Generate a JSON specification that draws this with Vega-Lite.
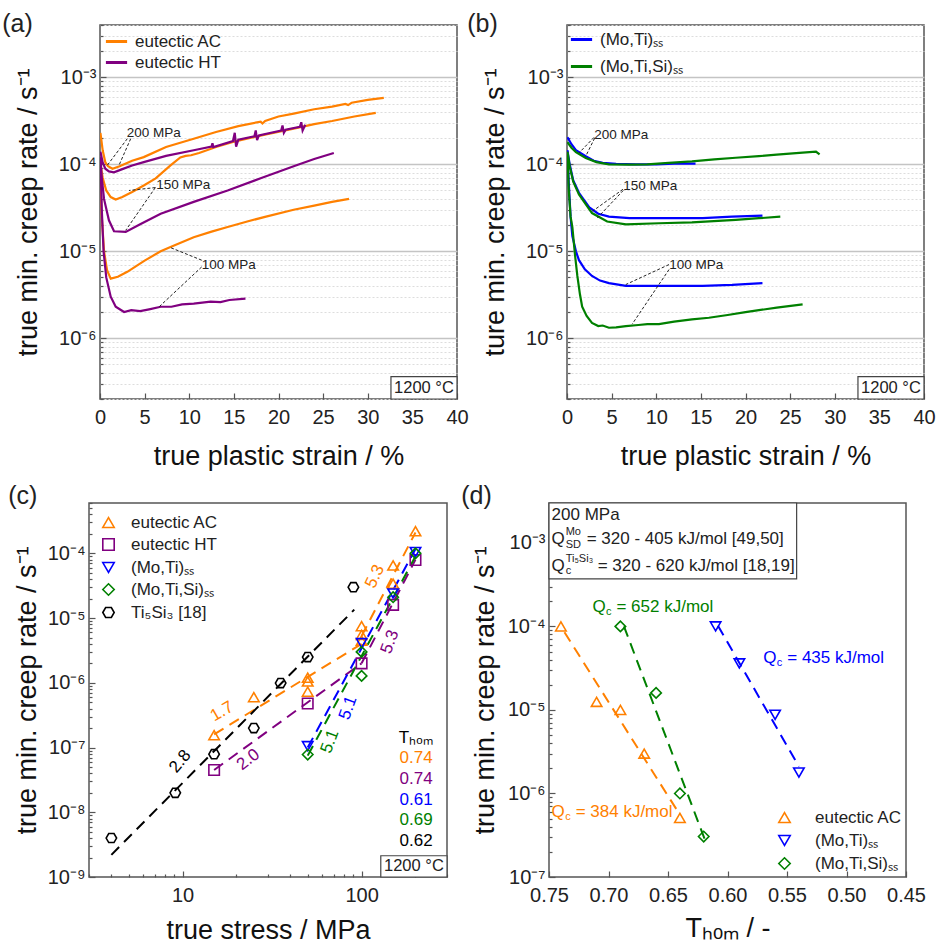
{
"$schema": "https://vega.github.io/schema/vega-lite/v6.json",
"background": "white",
"padding": {"left": 1, "top": 10, "right": 0, "bottom": 0},
"config": {
  "font": "Liberation Sans",
  "view": {"stroke": "#555555", "strokeWidth": 1.5},
  "axis": {"labelFontSize": 20, "titleFontSize": 27, "titleFontWeight": "normal", "labelColor": "#222222", "titleColor": "#111111", "domain": false, "tickColor": "#555555", "tickWidth": 1.2, "labelFont": "Liberation Sans", "titleFont": "Liberation Sans", "grid": false, "labelOverlap": false, "labelFlush": false},
  "legend": {"labelFontSize": 17, "labelFont": "Liberation Sans", "labelColor": "#222222", "padding": 0},
  "title": {"fontSize": 25, "fontWeight": "normal", "font": "Liberation Sans", "anchor": "start", "frame": "bounds", "color": "#222222"},
  "text": {"font": "Liberation Sans"}
},
"datasets": {
  "a": [
    {"g":"eutectic AC","p":200,"x":0.05,"y":2.3e-4},{"g":"eutectic AC","p":200,"x":0.3,"y":1.45e-4},{"g":"eutectic AC","p":200,"x":0.6,"y":1.05e-4},{"g":"eutectic AC","p":200,"x":0.9,"y":9.5e-5},{"g":"eutectic AC","p":200,"x":1.4,"y":8.9e-5},{"g":"eutectic AC","p":200,"x":2.2,"y":9.5e-5},{"g":"eutectic AC","p":200,"x":3.6,"y":1.1e-4},{"g":"eutectic AC","p":200,"x":4.9,"y":1.21e-4},{"g":"eutectic AC","p":200,"x":7.4,"y":1.58e-4},{"g":"eutectic AC","p":200,"x":10.5,"y":1.97e-4},{"g":"eutectic AC","p":200,"x":13,"y":2.35e-4},{"g":"eutectic AC","p":200,"x":15.5,"y":2.75e-4},{"g":"eutectic AC","p":200,"x":18,"y":3.1e-4},{"g":"eutectic AC","p":200,"x":18.2,"y":2.95e-4},{"g":"eutectic AC","p":200,"x":18.5,"y":3.15e-4},{"g":"eutectic AC","p":200,"x":20,"y":3.55e-4},{"g":"eutectic AC","p":200,"x":21.7,"y":3.83e-4},{"g":"eutectic AC","p":200,"x":24,"y":4.3e-4},{"g":"eutectic AC","p":200,"x":26,"y":4.6e-4},{"g":"eutectic AC","p":200,"x":27.5,"y":4.95e-4},{"g":"eutectic AC","p":200,"x":27.8,"y":4.8e-4},{"g":"eutectic AC","p":200,"x":28.2,"y":5.1e-4},{"g":"eutectic AC","p":200,"x":30,"y":5.5e-4},{"g":"eutectic AC","p":200,"x":31.8,"y":5.8e-4},
    {"g":"eutectic AC","p":150,"x":0.05,"y":1.0e-4},{"g":"eutectic AC","p":150,"x":0.3,"y":7e-5},{"g":"eutectic AC","p":150,"x":0.7,"y":5e-5},{"g":"eutectic AC","p":150,"x":1.2,"y":4.2e-5},{"g":"eutectic AC","p":150,"x":1.76,"y":3.93e-5},{"g":"eutectic AC","p":150,"x":2.5,"y":4.2e-5},{"g":"eutectic AC","p":150,"x":3.6,"y":4.8e-5},{"g":"eutectic AC","p":150,"x":4.9,"y":5.7e-5},{"g":"eutectic AC","p":150,"x":6.24,"y":6.9e-5},{"g":"eutectic AC","p":150,"x":7.9,"y":9.7e-5},{"g":"eutectic AC","p":150,"x":9.0,"y":1.2e-4},{"g":"eutectic AC","p":150,"x":9.6,"y":1.25e-4},{"g":"eutectic AC","p":150,"x":10.2,"y":1.27e-4},{"g":"eutectic AC","p":150,"x":11.1,"y":1.35e-4},{"g":"eutectic AC","p":150,"x":13,"y":1.58e-4},{"g":"eutectic AC","p":150,"x":14.8,"y":1.8e-4},{"g":"eutectic AC","p":150,"x":16.7,"y":2.0e-4},{"g":"eutectic AC","p":150,"x":18.6,"y":2.2e-4},{"g":"eutectic AC","p":150,"x":21.7,"y":2.57e-4},{"g":"eutectic AC","p":150,"x":24,"y":2.9e-4},{"g":"eutectic AC","p":150,"x":26,"y":3.15e-4},{"g":"eutectic AC","p":150,"x":28.5,"y":3.55e-4},{"g":"eutectic AC","p":150,"x":30.9,"y":3.9e-4},
    {"g":"eutectic AC","p":100,"x":0.05,"y":7e-5},{"g":"eutectic AC","p":100,"x":0.2,"y":2.5e-5},{"g":"eutectic AC","p":100,"x":0.45,"y":1e-5},{"g":"eutectic AC","p":100,"x":0.8,"y":6.0e-6},{"g":"eutectic AC","p":100,"x":1.2,"y":4.85e-6},{"g":"eutectic AC","p":100,"x":2,"y":5.1e-6},{"g":"eutectic AC","p":100,"x":3.06,"y":5.8e-6},{"g":"eutectic AC","p":100,"x":5,"y":7.8e-6},{"g":"eutectic AC","p":100,"x":6.8,"y":1.0e-5},{"g":"eutectic AC","p":100,"x":7.9,"y":1.12e-5},{"g":"eutectic AC","p":100,"x":10.5,"y":1.45e-5},{"g":"eutectic AC","p":100,"x":12.5,"y":1.68e-5},{"g":"eutectic AC","p":100,"x":14.3,"y":1.9e-5},{"g":"eutectic AC","p":100,"x":16.5,"y":2.2e-5},{"g":"eutectic AC","p":100,"x":18.6,"y":2.5e-5},{"g":"eutectic AC","p":100,"x":21.7,"y":3.0e-5},{"g":"eutectic AC","p":100,"x":24,"y":3.35e-5},{"g":"eutectic AC","p":100,"x":26,"y":3.7e-5},{"g":"eutectic AC","p":100,"x":27.9,"y":4.0e-5},
    {"g":"eutectic HT","p":200,"x":0.05,"y":1.4e-4},{"g":"eutectic HT","p":200,"x":0.3,"y":1.05e-4},{"g":"eutectic HT","p":200,"x":0.6,"y":8.9e-5},{"g":"eutectic HT","p":200,"x":1.0,"y":8.3e-5},{"g":"eutectic HT","p":200,"x":1.57,"y":8.1e-5},{"g":"eutectic HT","p":200,"x":2.5,"y":8.8e-5},{"g":"eutectic HT","p":200,"x":3.6,"y":9.7e-5},{"g":"eutectic HT","p":200,"x":4.9,"y":1.06e-4},{"g":"eutectic HT","p":200,"x":7.4,"y":1.25e-4},{"g":"eutectic HT","p":200,"x":10.5,"y":1.45e-4},{"g":"eutectic HT","p":200,"x":12.5,"y":1.6e-4},{"g":"eutectic HT","p":200,"x":12.6,"y":1.75e-4},{"g":"eutectic HT","p":200,"x":12.7,"y":1.58e-4},{"g":"eutectic HT","p":200,"x":14.9,"y":1.85e-4},{"g":"eutectic HT","p":200,"x":15.1,"y":2.3e-4},{"g":"eutectic HT","p":200,"x":15.25,"y":1.6e-4},{"g":"eutectic HT","p":200,"x":15.5,"y":1.92e-4},{"g":"eutectic HT","p":200,"x":17.3,"y":2.1e-4},{"g":"eutectic HT","p":200,"x":17.45,"y":2.45e-4},{"g":"eutectic HT","p":200,"x":17.6,"y":1.9e-4},{"g":"eutectic HT","p":200,"x":17.8,"y":2.15e-4},{"g":"eutectic HT","p":200,"x":20.3,"y":2.45e-4},{"g":"eutectic HT","p":200,"x":20.45,"y":2.8e-4},{"g":"eutectic HT","p":200,"x":20.6,"y":2.3e-4},{"g":"eutectic HT","p":200,"x":20.8,"y":2.5e-4},{"g":"eutectic HT","p":200,"x":22.4,"y":2.7e-4},{"g":"eutectic HT","p":200,"x":22.55,"y":3.05e-4},{"g":"eutectic HT","p":200,"x":22.7,"y":2.45e-4},{"g":"eutectic HT","p":200,"x":23,"y":2.85e-4},
    {"g":"eutectic HT","p":150,"x":0.05,"y":1.2e-4},{"g":"eutectic HT","p":150,"x":0.2,"y":7e-5},{"g":"eutectic HT","p":150,"x":0.45,"y":4e-5},{"g":"eutectic HT","p":150,"x":1.0,"y":2.27e-5},{"g":"eutectic HT","p":150,"x":1.57,"y":1.7e-5},{"g":"eutectic HT","p":150,"x":2.88,"y":1.67e-5},{"g":"eutectic HT","p":150,"x":4.5,"y":2.05e-5},{"g":"eutectic HT","p":150,"x":6.8,"y":2.7e-5},{"g":"eutectic HT","p":150,"x":10.5,"y":3.7e-5},{"g":"eutectic HT","p":150,"x":14.3,"y":5.0e-5},{"g":"eutectic HT","p":150,"x":18,"y":6.9e-5},{"g":"eutectic HT","p":150,"x":21.7,"y":9.5e-5},{"g":"eutectic HT","p":150,"x":24,"y":1.15e-4},{"g":"eutectic HT","p":150,"x":26.2,"y":1.35e-4},
    {"g":"eutectic HT","p":100,"x":0.05,"y":1.2e-4},{"g":"eutectic HT","p":100,"x":0.2,"y":3e-5},{"g":"eutectic HT","p":100,"x":0.4,"y":1e-5},{"g":"eutectic HT","p":100,"x":0.7,"y":5e-6},{"g":"eutectic HT","p":100,"x":1.2,"y":3.0e-6},{"g":"eutectic HT","p":100,"x":1.76,"y":2.3e-6},{"g":"eutectic HT","p":100,"x":2.7,"y":2.0e-6},{"g":"eutectic HT","p":100,"x":3.5,"y":2.1e-6},{"g":"eutectic HT","p":100,"x":4.5,"y":2.05e-6},{"g":"eutectic HT","p":100,"x":5.5,"y":2.15e-6},{"g":"eutectic HT","p":100,"x":6.8,"y":2.3e-6},{"g":"eutectic HT","p":100,"x":8,"y":2.3e-6},{"g":"eutectic HT","p":100,"x":9.2,"y":2.45e-6},{"g":"eutectic HT","p":100,"x":10.5,"y":2.5e-6},{"g":"eutectic HT","p":100,"x":12.4,"y":2.63e-6},{"g":"eutectic HT","p":100,"x":13.5,"y":2.6e-6},{"g":"eutectic HT","p":100,"x":14.5,"y":2.75e-6},{"g":"eutectic HT","p":100,"x":16.3,"y":2.85e-6}
  ],
  "b": [
    {"g":"(Mo,Ti)ₛₛ","p":200,"x":0.05,"y":2.05e-4},{"g":"(Mo,Ti)ₛₛ","p":200,"x":0.5,"y":1.7e-4},{"g":"(Mo,Ti)ₛₛ","p":200,"x":1.0,"y":1.45e-4},{"g":"(Mo,Ti)ₛₛ","p":200,"x":2.1,"y":1.24e-4},{"g":"(Mo,Ti)ₛₛ","p":200,"x":3,"y":1.1e-4},{"g":"(Mo,Ti)ₛₛ","p":200,"x":4,"y":1.04e-4},{"g":"(Mo,Ti)ₛₛ","p":200,"x":5.5,"y":1.01e-4},{"g":"(Mo,Ti)ₛₛ","p":200,"x":7.7,"y":1.0e-4},{"g":"(Mo,Ti)ₛₛ","p":200,"x":10,"y":1.0e-4},{"g":"(Mo,Ti)ₛₛ","p":200,"x":12,"y":1.02e-4},{"g":"(Mo,Ti)ₛₛ","p":200,"x":14.4,"y":1.02e-4},
    {"g":"(Mo,Ti)ₛₛ","p":150,"x":0.05,"y":1.45e-4},{"g":"(Mo,Ti)ₛₛ","p":150,"x":0.3,"y":1.0e-4},{"g":"(Mo,Ti)ₛₛ","p":150,"x":0.7,"y":6.5e-5},{"g":"(Mo,Ti)ₛₛ","p":150,"x":1.34,"y":4.7e-5},{"g":"(Mo,Ti)ₛₛ","p":150,"x":2.5,"y":3.2e-5},{"g":"(Mo,Ti)ₛₛ","p":150,"x":3.5,"y":2.7e-5},{"g":"(Mo,Ti)ₛₛ","p":150,"x":4.7,"y":2.5e-5},{"g":"(Mo,Ti)ₛₛ","p":150,"x":7,"y":2.4e-5},{"g":"(Mo,Ti)ₛₛ","p":150,"x":10.3,"y":2.4e-5},{"g":"(Mo,Ti)ₛₛ","p":150,"x":15.2,"y":2.4e-5},{"g":"(Mo,Ti)ₛₛ","p":150,"x":18.5,"y":2.5e-5},{"g":"(Mo,Ti)ₛₛ","p":150,"x":21.9,"y":2.57e-5},
    {"g":"(Mo,Ti)ₛₛ","p":100,"x":0.05,"y":1.4e-4},{"g":"(Mo,Ti)ₛₛ","p":100,"x":0.2,"y":6e-5},{"g":"(Mo,Ti)ₛₛ","p":100,"x":0.4,"y":2.5e-5},{"g":"(Mo,Ti)ₛₛ","p":100,"x":0.6,"y":1.5e-5},{"g":"(Mo,Ti)ₛₛ","p":100,"x":1.0,"y":1.0e-5},{"g":"(Mo,Ti)ₛₛ","p":100,"x":1.34,"y":7.9e-6},{"g":"(Mo,Ti)ₛₛ","p":100,"x":2,"y":6.2e-6},{"g":"(Mo,Ti)ₛₛ","p":100,"x":2.8,"y":5.2e-6},{"g":"(Mo,Ti)ₛₛ","p":100,"x":3.7,"y":4.6e-6},{"g":"(Mo,Ti)ₛₛ","p":100,"x":4.7,"y":4.3e-6},{"g":"(Mo,Ti)ₛₛ","p":100,"x":6.6,"y":4.0e-6},{"g":"(Mo,Ti)ₛₛ","p":100,"x":10,"y":4.0e-6},{"g":"(Mo,Ti)ₛₛ","p":100,"x":15.2,"y":4.0e-6},{"g":"(Mo,Ti)ₛₛ","p":100,"x":18.5,"y":4.1e-6},{"g":"(Mo,Ti)ₛₛ","p":100,"x":21.9,"y":4.3e-6},
    {"g":"(Mo,Ti,Si)ₛₛ","p":200,"x":0.05,"y":1.8e-4},{"g":"(Mo,Ti,Si)ₛₛ","p":200,"x":0.5,"y":1.55e-4},{"g":"(Mo,Ti,Si)ₛₛ","p":200,"x":1.0,"y":1.38e-4},{"g":"(Mo,Ti,Si)ₛₛ","p":200,"x":2.1,"y":1.18e-4},{"g":"(Mo,Ti,Si)ₛₛ","p":200,"x":3.3,"y":1.06e-4},{"g":"(Mo,Ti,Si)ₛₛ","p":200,"x":4.7,"y":1.0e-4},{"g":"(Mo,Ti,Si)ₛₛ","p":200,"x":7,"y":0.99e-4},{"g":"(Mo,Ti,Si)ₛₛ","p":200,"x":9,"y":1.0e-4},{"g":"(Mo,Ti,Si)ₛₛ","p":200,"x":11.4,"y":1.04e-4},{"g":"(Mo,Ti,Si)ₛₛ","p":200,"x":14,"y":1.08e-4},{"g":"(Mo,Ti,Si)ₛₛ","p":200,"x":16.5,"y":1.14e-4},{"g":"(Mo,Ti,Si)ₛₛ","p":200,"x":18.9,"y":1.19e-4},{"g":"(Mo,Ti,Si)ₛₛ","p":200,"x":21.5,"y":1.24e-4},{"g":"(Mo,Ti,Si)ₛₛ","p":200,"x":23.5,"y":1.29e-4},{"g":"(Mo,Ti,Si)ₛₛ","p":200,"x":26.4,"y":1.36e-4},{"g":"(Mo,Ti,Si)ₛₛ","p":200,"x":27.9,"y":1.4e-4},{"g":"(Mo,Ti,Si)ₛₛ","p":200,"x":28.3,"y":1.3e-4},
    {"g":"(Mo,Ti,Si)ₛₛ","p":150,"x":0.05,"y":1.4e-4},{"g":"(Mo,Ti,Si)ₛₛ","p":150,"x":0.3,"y":9.5e-5},{"g":"(Mo,Ti,Si)ₛₛ","p":150,"x":0.7,"y":6.3e-5},{"g":"(Mo,Ti,Si)ₛₛ","p":150,"x":1.34,"y":4.5e-5},{"g":"(Mo,Ti,Si)ₛₛ","p":150,"x":2.8,"y":2.75e-5},{"g":"(Mo,Ti,Si)ₛₛ","p":150,"x":4.5,"y":2.2e-5},{"g":"(Mo,Ti,Si)ₛₛ","p":150,"x":6.6,"y":2.04e-5},{"g":"(Mo,Ti,Si)ₛₛ","p":150,"x":10.3,"y":2.1e-5},{"g":"(Mo,Ti,Si)ₛₛ","p":150,"x":14,"y":2.15e-5},{"g":"(Mo,Ti,Si)ₛₛ","p":150,"x":18.9,"y":2.3e-5},{"g":"(Mo,Ti,Si)ₛₛ","p":150,"x":21.5,"y":2.4e-5},{"g":"(Mo,Ti,Si)ₛₛ","p":150,"x":23.9,"y":2.5e-5},
    {"g":"(Mo,Ti,Si)ₛₛ","p":100,"x":0.05,"y":1.3e-4},{"g":"(Mo,Ti,Si)ₛₛ","p":100,"x":0.2,"y":5e-5},{"g":"(Mo,Ti,Si)ₛₛ","p":100,"x":0.4,"y":2.5e-5},{"g":"(Mo,Ti,Si)ₛₛ","p":100,"x":0.6,"y":1.9e-5},{"g":"(Mo,Ti,Si)ₛₛ","p":100,"x":0.9,"y":9e-6},{"g":"(Mo,Ti,Si)ₛₛ","p":100,"x":1.16,"y":5.2e-6},{"g":"(Mo,Ti,Si)ₛₛ","p":100,"x":1.45,"y":3.2e-6},{"g":"(Mo,Ti,Si)ₛₛ","p":100,"x":1.7,"y":2.3e-6},{"g":"(Mo,Ti,Si)ₛₛ","p":100,"x":2.2,"y":1.8e-6},{"g":"(Mo,Ti,Si)ₛₛ","p":100,"x":2.8,"y":1.5e-6},{"g":"(Mo,Ti,Si)ₛₛ","p":100,"x":3.5,"y":1.38e-6},{"g":"(Mo,Ti,Si)ₛₛ","p":100,"x":4.0,"y":1.4e-6},{"g":"(Mo,Ti,Si)ₛₛ","p":100,"x":4.7,"y":1.32e-6},{"g":"(Mo,Ti,Si)ₛₛ","p":100,"x":5.5,"y":1.33e-6},{"g":"(Mo,Ti,Si)ₛₛ","p":100,"x":6.6,"y":1.38e-6},{"g":"(Mo,Ti,Si)ₛₛ","p":100,"x":8,"y":1.42e-6},{"g":"(Mo,Ti,Si)ₛₛ","p":100,"x":9,"y":1.45e-6},{"g":"(Mo,Ti,Si)ₛₛ","p":100,"x":10.3,"y":1.45e-6},{"g":"(Mo,Ti,Si)ₛₛ","p":100,"x":12,"y":1.55e-6},{"g":"(Mo,Ti,Si)ₛₛ","p":100,"x":14,"y":1.65e-6},{"g":"(Mo,Ti,Si)ₛₛ","p":100,"x":15.9,"y":1.72e-6},{"g":"(Mo,Ti,Si)ₛₛ","p":100,"x":18,"y":1.85e-6},{"g":"(Mo,Ti,Si)ₛₛ","p":100,"x":20,"y":2.0e-6},{"g":"(Mo,Ti,Si)ₛₛ","p":100,"x":21.5,"y":2.1e-6},{"g":"(Mo,Ti,Si)ₛₛ","p":100,"x":23.5,"y":2.25e-6},{"g":"(Mo,Ti,Si)ₛₛ","p":100,"x":26.4,"y":2.45e-6}
  ],
  "aLead": [
    {"x1":3.06,"y1":1.97e-4,"x2":0.82,"y2":9.75e-5},{"x1":3.44,"y1":1.97e-4,"x2":2.13,"y2":9.75e-5},
    {"x1":6.2,"y1":5.4e-5,"x2":3.25,"y2":5.0e-5},{"x1":6.2,"y1":5.4e-5,"x2":2.88,"y2":1.74e-5},
    {"x1":11.39,"y1":7.9e-6,"x2":7.92,"y2":1.1e-5},{"x1":11.39,"y1":6.6e-6,"x2":6.61,"y2":2.29e-6}
  ],
  "aText": [
    {"x":3.0,"y":2.27e-4,"t":"200 MPa"},{"x":6.3,"y":5.74e-5,"t":"150 MPa"},{"x":11.4,"y":7.03e-6,"t":"100 MPa"}
  ],
  "bLead": [
    {"x1":3.03,"y1":2.04e-4,"x2":1.34,"y2":1.35e-4},{"x1":3.1,"y1":2.0e-4,"x2":2.1,"y2":1.24e-4},
    {"x1":6.27,"y1":5.16e-5,"x2":2.84,"y2":2.88e-5},{"x1":6.3,"y1":5.0e-5,"x2":3.4,"y2":2.42e-5},
    {"x1":11.43,"y1":7.03e-6,"x2":6.58,"y2":4.14e-6},{"x1":11.43,"y1":6.16e-6,"x2":7.3,"y2":1.45e-6}
  ],
  "bText": [
    {"x":3.05,"y":2.2e-4,"t":"200 MPa"},{"x":6.3,"y":5.59e-5,"t":"150 MPa"},{"x":11.45,"y":6.9e-6,"t":"100 MPa"}
  ],
  "boxAB": [{"x1":32.6,"x2":40,"y1":2e-7,"y2":3.62e-7,"tx":36.3,"ty":2.7e-7,"t":"1200 °C"}],
  "boxC": [{"x1":128,"x2":300,"y1":1e-9,"y2":2.13e-9,"tx":196,"ty":1.46e-9,"t":"1200 °C"}],
  "c": [
    {"m":"eutectic AC","s":15,"r":1.55e-7},{"m":"eutectic AC","s":25,"r":6.0e-7},{"m":"eutectic AC","s":50,"r":1.2e-6},{"m":"eutectic AC","s":50,"r":1.05e-6},{"m":"eutectic AC","s":50,"r":7.3e-7},{"m":"eutectic AC","s":100,"r":7.5e-6},{"m":"eutectic AC","s":100,"r":5.5e-6},{"m":"eutectic AC","s":100,"r":4.5e-6},{"m":"eutectic AC","s":150,"r":6.5e-5},{"m":"eutectic AC","s":150,"r":3.4e-5},{"m":"eutectic AC","s":200,"r":2.2e-4},
    {"m":"eutectic HT","s":15,"r":4.5e-8},{"m":"eutectic HT","s":50,"r":4.8e-7},{"m":"eutectic HT","s":100,"r":2.0e-6},{"m":"eutectic HT","s":150,"r":1.6e-5},{"m":"eutectic HT","s":200,"r":7.9e-5},
    {"m":"(Mo,Ti)ₛₛ","s":50,"r":1.05e-7},{"m":"(Mo,Ti)ₛₛ","s":100,"r":4.1e-6},{"m":"(Mo,Ti)ₛₛ","s":150,"r":2.4e-5},{"m":"(Mo,Ti)ₛₛ","s":200,"r":1.05e-4},
    {"m":"(Mo,Ti,Si)ₛₛ","s":50,"r":7.8e-8},{"m":"(Mo,Ti,Si)ₛₛ","s":100,"r":1.28e-6},{"m":"(Mo,Ti,Si)ₛₛ","s":100,"r":3.0e-6},{"m":"(Mo,Ti,Si)ₛₛ","s":150,"r":2.1e-5},{"m":"(Mo,Ti,Si)ₛₛ","s":200,"r":1.0e-4},
    {"m":"Ti₅Si₃ [18]","s":4,"r":4.0e-9},{"m":"Ti₅Si₃ [18]","s":9.1,"r":2.0e-8},{"m":"Ti₅Si₃ [18]","s":15,"r":7.9e-8},{"m":"Ti₅Si₃ [18]","s":25,"r":2.0e-7},{"m":"Ti₅Si₃ [18]","s":35.3,"r":9.9e-7},{"m":"Ti₅Si₃ [18]","s":50,"r":2.5e-6},{"m":"Ti₅Si₃ [18]","s":90,"r":3.0e-5}
  ],
  "cLines": [
    {"col":"#FF8000","k":"AC1","s":15,"r":1.6e-7},{"col":"#FF8000","k":"AC1","s":100,"r":4.0e-6},
    {"col":"#FF8000","k":"AC2","s":100,"r":5.3e-6},{"col":"#FF8000","k":"AC2","s":200,"r":2.1e-4},
    {"col":"#800080","k":"HT1","s":15,"r":4.5e-8},{"col":"#800080","k":"HT1","s":100,"r":2.0e-6},
    {"col":"#800080","k":"HT2","s":100,"r":2.0e-6},{"col":"#800080","k":"HT2","s":200,"r":8.0e-5},
    {"col":"#0000FF","k":"MT","s":50,"r":1.0e-7},{"col":"#0000FF","k":"MT","s":200,"r":1.17e-4},
    {"col":"#008000","k":"MTS","s":50,"r":7.5e-8},{"col":"#008000","k":"MTS","s":200,"r":9.0e-5},
    {"col":"#000000","k":"TS","s":4,"r":2.2e-9},{"col":"#000000","k":"TS","s":91,"r":1.35e-5}
  ],
  "cSlopes": [
    {"t":"1.7","s":16.6,"r":3.6e-7,"a":-30,"col":"#FF8000"},
    {"t":"2.8","s":9.7,"r":6.1e-8,"a":-50,"col":"#000000"},
    {"t":"2.0","s":23.3,"r":6.5e-8,"a":-38,"col":"#800080"},
    {"t":"5.1","s":66.5,"r":1.24e-7,"a":-70,"col":"#008000"},
    {"t":"5.1","s":84,"r":4.1e-7,"a":-70,"col":"#0000FF"},
    {"t":"5.3","s":118.6,"r":4.4e-5,"a":-65,"col":"#FF8000"},
    {"t":"5.3","s":144,"r":4.3e-6,"a":-70,"col":"#800080"}
  ],
  "cThom": [
    {"t":"Tₕₒₘ","s":249.5,"r":1.4e-7,"col":"#000000"},
    {"t":"0.74","s":249.5,"r":6.9e-8,"col":"#FF8000"},
    {"t":"0.74","s":249.5,"r":3.25e-8,"col":"#800080"},
    {"t":"0.61","s":249.5,"r":1.56e-8,"col":"#0000FF"},
    {"t":"0.69","s":249.5,"r":7.5e-9,"col":"#008000"},
    {"t":"0.62","s":249.5,"r":3.55e-9,"col":"#000000"}
  ],
  "d": [
    {"m":"eutectic AC","T":0.74,"r":1.0e-4},{"m":"eutectic AC","T":0.71,"r":1.25e-5},{"m":"eutectic AC","T":0.69,"r":1.0e-5},{"m":"eutectic AC","T":0.67,"r":3.0e-6},{"m":"eutectic AC","T":0.64,"r":5.1e-7},
    {"m":"(Mo,Ti)ₛₛ","T":0.61,"r":1.0e-4},{"m":"(Mo,Ti)ₛₛ","T":0.59,"r":3.6e-5},{"m":"(Mo,Ti)ₛₛ","T":0.56,"r":8.75e-6},{"m":"(Mo,Ti)ₛₛ","T":0.54,"r":1.78e-6},
    {"m":"(Mo,Ti,Si)ₛₛ","T":0.69,"r":1.0e-4},{"m":"(Mo,Ti,Si)ₛₛ","T":0.66,"r":1.6e-5},{"m":"(Mo,Ti,Si)ₛₛ","T":0.64,"r":1.0e-6},{"m":"(Mo,Ti,Si)ₛₛ","T":0.62,"r":3.05e-7}
  ],
  "dLines": [
    {"col":"#FF8000","k":"AC","T":0.737,"r":8.5e-5},{"col":"#FF8000","k":"AC","T":0.643,"r":6.5e-7},
    {"col":"#0000FF","k":"MT","T":0.608,"r":1.02e-4},{"col":"#0000FF","k":"MT","T":0.540,"r":2.1e-6},
    {"col":"#008000","k":"MTS","T":0.687,"r":1.0e-4},{"col":"#008000","k":"MTS","T":0.619,"r":2.8e-7}
  ],
  "dText": [
    {"t":"Q","T":0.7135,"r":1.69e-4,"z":17,"col":"#008000"},{"t":"c","T":0.7021,"r":1.47e-4,"z":11,"col":"#008000"},{"t":"= 652 kJ/mol","T":0.6933,"r":1.69e-4,"z":17,"col":"#008000"},
    {"t":"Q","T":0.570,"r":4.18e-5,"z":17,"col":"#0000FF"},{"t":"c","T":0.5586,"r":3.64e-5,"z":11,"col":"#0000FF"},{"t":"= 435 kJ/mol","T":0.5498,"r":4.18e-5,"z":17,"col":"#0000FF"},
    {"t":"Q","T":0.7478,"r":6.07e-7,"z":17,"col":"#FF8000"},{"t":"c","T":0.7364,"r":5.29e-7,"z":11,"col":"#FF8000"},{"t":"= 384 kJ/mol","T":0.7276,"r":6.07e-7,"z":17,"col":"#FF8000"},
    {"t":"200 MPa","T":0.7478,"r":2.17e-3,"z":17,"col":"#222222"},
    {"t":"Q","T":0.7478,"r":1.12e-3,"z":17,"col":"#222222"},{"t":"Mo","T":0.7360,"r":1.34e-3,"z":11,"col":"#222222"},{"t":"SD","T":0.7360,"r":9.5e-4,"z":11,"col":"#222222"},{"t":"= 320 - 405 kJ/mol [49,50]","T":0.7183,"r":1.12e-3,"z":17,"col":"#222222"},
    {"t":"Q","T":0.7478,"r":5.35e-4,"z":17,"col":"#222222"},{"t":"Ti₅Si₃","T":0.7360,"r":6.4e-4,"z":11,"col":"#222222"},{"t":"c","T":0.7360,"r":4.55e-4,"z":11,"col":"#222222"},{"t":"= 320 - 620 kJ/mol [18,19]","T":0.7091,"r":5.35e-4,"z":17,"col":"#222222"}
  ],
  "boxD": [{"x1":0.75,"x2":0.5419,"y1":3.7e-4,"y2":3e-3}],
  "none": []
},
"spacing": 12,
"columns": 1,
"resolve": {"scale": {"color": "independent", "shape": "independent", "fill": "independent", "stroke": "independent"}, "legend": {"color": "independent", "shape": "independent"}},
"concat": [
 {"hconcat": [
  {"width": 1, "height": 374, "view": {"stroke": null}, "data": {"name": "none"}, "mark": "point", "encoding": {}},
  {"hconcat": [
  {"width": 357, "height": 374,
   "title": {"text": "(a)", "offset": -21.6, "dx": -12},
   "layer": [
    {"data": {"name": "a"}, "mark": {"type": "line", "strokeWidth": 2.2, "clip": true},
     "encoding": {
      "x": {"field": "x", "type": "quantitative", "scale": {"domain": [0, 40], "nice": false, "zero": false},
            "axis": {"title": "true plastic strain / %", "values": [0,2.5,5,7.5,10,12.5,15,17.5,20,22.5,25,27.5,30,32.5,35,37.5,40], "labelExpr": "datum.value % 5 == 0 ? toString(datum.value) : ''", "tickSize": {"condition": {"test": "datum.value % 5 == 0", "value": -6}, "value": -3}, "labelPadding": 14, "titlePadding": 16}},
      "y": {"field": "y", "type": "quantitative", "scale": {"type": "log", "domain": [2e-7, 4e-3], "nice": false},
            "axis": {"title": "true min. creep rate / s⁻¹", "values": [2e-7,3e-7,4e-7,5e-7,6e-7,7e-7,8e-7,9e-7,1e-6,2e-6,3e-6,4e-6,5e-6,6e-6,7e-6,8e-6,9e-6,1e-5,2e-5,3e-5,4e-5,5e-5,6e-5,7e-5,8e-5,9e-5,1e-4,2e-4,3e-4,4e-4,5e-4,6e-4,7e-4,8e-4,9e-4,1e-3,2e-3,3e-3,4e-3],
                     "labelExpr": "abs(log(datum.value)/LN10-round(log(datum.value)/LN10))<1e-6 ? '10⁻'+['⁰','¹','²','³','⁴','⁵','⁶','⁷','⁸','⁹'][-round(log(datum.value)/LN10)] : ''",
                     "tickSize": {"condition": {"test": "abs(log(datum.value)/LN10-round(log(datum.value)/LN10))<1e-6", "value": -6}, "value": -3},
                     "grid": true,
                     "gridColor": {"condition": {"test": "abs(log(datum.value)/LN10-round(log(datum.value)/LN10))<1e-6", "value": "#c4c4c4"}, "value": "#dddddd"},
                     "gridDash": {"condition": {"test": "abs(log(datum.value)/LN10-round(log(datum.value)/LN10))<1e-6", "value": []}, "value": [2, 2]},
                     "gridWidth": {"condition": {"test": "abs(log(datum.value)/LN10-round(log(datum.value)/LN10))<1e-6", "value": 1.5}, "value": 1},
                     "labelPadding": 10, "titlePadding": 16}},
      "color": {"field": "g", "type": "nominal", "scale": {"domain": ["eutectic AC", "eutectic HT"], "range": ["#FF8000", "#800080"]},
                "legend": {"orient": "top-left", "title": null, "symbolType": "stroke", "symbolStrokeWidth": 3, "symbolSize": 450, "offset": 4, "rowPadding": 0, "labelOffset": 6}},
      "detail": {"field": "p", "type": "nominal"}
     }},
    {"data": {"name": "aLead"}, "mark": {"type": "rule", "strokeDash": [3, 2], "color": "#222222", "strokeWidth": 1},
     "encoding": {"x": {"field": "x1", "type": "quantitative"}, "y": {"field": "y1", "type": "quantitative"}, "x2": {"field": "x2"}, "y2": {"field": "y2"}}},
    {"data": {"name": "aText"}, "mark": {"type": "text", "align": "left", "baseline": "middle", "fontSize": 13.5, "color": "#222222"},
     "encoding": {"x": {"field": "x", "type": "quantitative"}, "y": {"field": "y", "type": "quantitative"}, "text": {"field": "t"}}},
    {"data": {"name": "boxAB"}, "mark": {"type": "rect", "fill": "white", "stroke": "#444444", "strokeWidth": 1.2},
     "encoding": {"x": {"field": "x1", "type": "quantitative"}, "x2": {"field": "x2"}, "y": {"field": "y1", "type": "quantitative"}, "y2": {"field": "y2"}}},
    {"data": {"name": "boxAB"}, "mark": {"type": "text", "align": "center", "baseline": "middle", "fontSize": 16.5, "color": "#222222"},
     "encoding": {"x": {"field": "tx", "type": "quantitative"}, "y": {"field": "ty", "type": "quantitative"}, "text": {"field": "t"}}}
   ]},
  {"width": 357, "height": 374,
   "title": {"text": "(b)", "offset": -21.6, "dx": -14},
   "layer": [
    {"data": {"name": "b"}, "mark": {"type": "line", "strokeWidth": 2.2, "clip": true},
     "encoding": {
      "x": {"field": "x", "type": "quantitative", "scale": {"domain": [0, 40], "nice": false, "zero": false},
            "axis": {"title": "true plastic strain / %", "values": [0,2.5,5,7.5,10,12.5,15,17.5,20,22.5,25,27.5,30,32.5,35,37.5,40], "labelExpr": "datum.value % 5 == 0 ? toString(datum.value) : ''", "tickSize": {"condition": {"test": "datum.value % 5 == 0", "value": -6}, "value": -3}, "labelPadding": 14, "titlePadding": 16}},
      "y": {"field": "y", "type": "quantitative", "scale": {"type": "log", "domain": [2e-7, 4e-3], "nice": false},
            "axis": {"title": "ture min. creep rate / s⁻¹", "values": [2e-7,3e-7,4e-7,5e-7,6e-7,7e-7,8e-7,9e-7,1e-6,2e-6,3e-6,4e-6,5e-6,6e-6,7e-6,8e-6,9e-6,1e-5,2e-5,3e-5,4e-5,5e-5,6e-5,7e-5,8e-5,9e-5,1e-4,2e-4,3e-4,4e-4,5e-4,6e-4,7e-4,8e-4,9e-4,1e-3,2e-3,3e-3,4e-3],
                     "labelExpr": "abs(log(datum.value)/LN10-round(log(datum.value)/LN10))<1e-6 ? '10⁻'+['⁰','¹','²','³','⁴','⁵','⁶','⁷','⁸','⁹'][-round(log(datum.value)/LN10)] : ''",
                     "tickSize": {"condition": {"test": "abs(log(datum.value)/LN10-round(log(datum.value)/LN10))<1e-6", "value": -6}, "value": -3},
                     "grid": true,
                     "gridColor": {"condition": {"test": "abs(log(datum.value)/LN10-round(log(datum.value)/LN10))<1e-6", "value": "#c4c4c4"}, "value": "#dddddd"},
                     "gridDash": {"condition": {"test": "abs(log(datum.value)/LN10-round(log(datum.value)/LN10))<1e-6", "value": []}, "value": [2, 2]},
                     "gridWidth": {"condition": {"test": "abs(log(datum.value)/LN10-round(log(datum.value)/LN10))<1e-6", "value": 1.5}, "value": 1},
                     "labelPadding": 10, "titlePadding": 16}},
      "color": {"field": "g", "type": "nominal", "scale": {"domain": ["(Mo,Ti)ₛₛ", "(Mo,Ti,Si)ₛₛ"], "range": ["#0000FF", "#008000"]},
                "legend": {"orient": "top-left", "title": null, "symbolType": "stroke", "symbolStrokeWidth": 3, "symbolSize": 450, "offset": 2, "rowPadding": 6, "labelOffset": 6}},
      "detail": {"field": "p", "type": "nominal"}
     }},
    {"data": {"name": "bLead"}, "mark": {"type": "rule", "strokeDash": [3, 2], "color": "#222222", "strokeWidth": 1},
     "encoding": {"x": {"field": "x1", "type": "quantitative"}, "y": {"field": "y1", "type": "quantitative"}, "x2": {"field": "x2"}, "y2": {"field": "y2"}}},
    {"data": {"name": "bText"}, "mark": {"type": "text", "align": "left", "baseline": "middle", "fontSize": 13.5, "color": "#222222"},
     "encoding": {"x": {"field": "x", "type": "quantitative"}, "y": {"field": "y", "type": "quantitative"}, "text": {"field": "t"}}},
    {"data": {"name": "boxAB"}, "mark": {"type": "rect", "fill": "white", "stroke": "#444444", "strokeWidth": 1.2},
     "encoding": {"x": {"field": "x1", "type": "quantitative"}, "x2": {"field": "x2"}, "y": {"field": "y1", "type": "quantitative"}, "y2": {"field": "y2"}}},
    {"data": {"name": "boxAB"}, "mark": {"type": "text", "align": "center", "baseline": "middle", "fontSize": 16.5, "color": "#222222"},
     "encoding": {"x": {"field": "tx", "type": "quantitative"}, "y": {"field": "ty", "type": "quantitative"}, "text": {"field": "t"}}}
   ]}
  ], "spacing": -3, "resolve": {"scale": {"color": "independent", "shape": "independent", "fill": "independent", "stroke": "independent"}, "legend": {"color": "independent", "shape": "independent"}}}
 ], "spacing": -89, "resolve": {"scale": {"color": "independent", "shape": "independent", "fill": "independent", "stroke": "independent"}, "legend": {"color": "independent", "shape": "independent"}}},
 {"hconcat": [
  {"width": 358, "height": 374,
   "title": {"text": "(c)", "offset": -15.7, "dx": -5},
   "layer": [
    {"data": {"name": "cLines"}, "mark": {"type": "line", "strokeWidth": 2, "strokeDash": [11, 7], "clip": true},
     "encoding": {
      "x": {"field": "s", "type": "quantitative", "scale": {"type": "log", "domain": [3, 300], "nice": false},
            "axis": {"title": "true stress / MPa", "values": [3,4,5,6,7,8,9,10,20,30,40,50,60,70,80,90,100,200,300], "labelExpr": "(datum.value==10||datum.value==100) ? toString(datum.value) : ''", "tickSize": {"condition": {"test": "datum.value==10||datum.value==100", "value": -6}, "value": -3}, "labelPadding": 14, "titlePadding": 9}},
      "y": {"field": "r", "type": "quantitative", "scale": {"type": "log", "domain": [1e-9, 6e-4], "nice": false},
            "axis": {"title": "true min. creep rate / s⁻¹", "values": [1e-9,2e-9,3e-9,4e-9,5e-9,6e-9,7e-9,8e-9,9e-9,1e-8,2e-8,3e-8,4e-8,5e-8,6e-8,7e-8,8e-8,9e-8,1e-7,2e-7,3e-7,4e-7,5e-7,6e-7,7e-7,8e-7,9e-7,1e-6,2e-6,3e-6,4e-6,5e-6,6e-6,7e-6,8e-6,9e-6,1e-5,2e-5,3e-5,4e-5,5e-5,6e-5,7e-5,8e-5,9e-5,1e-4,2e-4,3e-4,4e-4,5e-4,6e-4],
                     "labelExpr": "abs(log(datum.value)/LN10-round(log(datum.value)/LN10))<1e-6 ? '10⁻'+['⁰','¹','²','³','⁴','⁵','⁶','⁷','⁸','⁹'][-round(log(datum.value)/LN10)] : ''",
                     "tickSize": {"condition": {"test": "abs(log(datum.value)/LN10-round(log(datum.value)/LN10))<1e-6", "value": -6}, "value": -3},
                     "labelPadding": 10, "titlePadding": 6}},
      "stroke": {"field": "col", "type": "nominal", "scale": null},
      "detail": {"field": "k", "type": "nominal"}
     }},
    {"data": {"name": "c"}, "mark": {"type": "point", "filled": false, "strokeWidth": 1.6, "size": 110, "opacity": 1},
     "encoding": {
      "x": {"field": "s", "type": "quantitative"},
      "y": {"field": "r", "type": "quantitative"},
      "color": {"field": "m", "type": "nominal", "scale": {"domain": ["eutectic AC", "eutectic HT", "(Mo,Ti)ₛₛ", "(Mo,Ti,Si)ₛₛ", "Ti₅Si₃ [18]"], "range": ["#FF8000", "#800080", "#0000FF", "#008000", "#000000"]}, "legend": {"orient": "top-left", "title": null, "offset": 11, "rowPadding": 4, "labelOffset": 14, "symbolSize": 130, "symbolStrokeWidth": 1.6}},
      "shape": {"field": "m", "type": "nominal", "scale": {"domain": ["eutectic AC", "eutectic HT", "(Mo,Ti)ₛₛ", "(Mo,Ti,Si)ₛₛ", "Ti₅Si₃ [18]"], "range": ["triangle-up", "square", "triangle-down", "diamond", "M-1,0L-0.5,-0.866L0.5,-0.866L1,0L0.5,0.866L-0.5,0.866Z"]}, "legend": {"orient": "top-left", "title": null, "offset": 11, "rowPadding": 4, "labelOffset": 14, "symbolSize": 130, "symbolStrokeWidth": 1.6}}
     }},
    {"data": {"name": "cSlopes"}, "mark": {"type": "text", "align": "center", "baseline": "middle", "fontSize": 17},
     "encoding": {"x": {"field": "s", "type": "quantitative"}, "y": {"field": "r", "type": "quantitative"}, "text": {"field": "t"}, "angle": {"field": "a", "type": "quantitative", "scale": null}, "fill": {"field": "col", "type": "nominal", "scale": null}}},
    {"data": {"name": "cThom"}, "mark": {"type": "text", "align": "right", "baseline": "middle", "fontSize": 17},
     "encoding": {"x": {"field": "s", "type": "quantitative"}, "y": {"field": "r", "type": "quantitative"}, "text": {"field": "t"}, "fill": {"field": "col", "type": "nominal", "scale": null}}},
    {"data": {"name": "boxC"}, "mark": {"type": "rect", "fill": "white", "stroke": "#444444", "strokeWidth": 1.2},
     "encoding": {"x": {"field": "x1", "type": "quantitative"}, "x2": {"field": "x2"}, "y": {"field": "y1", "type": "quantitative"}, "y2": {"field": "y2"}}},
    {"data": {"name": "boxC"}, "mark": {"type": "text", "align": "center", "baseline": "middle", "fontSize": 16.5, "color": "#222222"},
     "encoding": {"x": {"field": "tx", "type": "quantitative"}, "y": {"field": "ty", "type": "quantitative"}, "text": {"field": "t"}}}
   ]},
  {"width": 357, "height": 374,
   "title": {"text": "(d)", "offset": -15.7, "dx": -10},
   "layer": [
    {"data": {"name": "dLines"}, "mark": {"type": "line", "strokeWidth": 2, "strokeDash": [11, 7], "clip": true},
     "encoding": {
      "x": {"field": "T", "type": "quantitative", "scale": {"domain": [0.45, 0.75], "reverse": true, "nice": false, "zero": false},
            "axis": {"title": "Tₕₒₘ / -", "values": [0.45,0.475,0.5,0.525,0.55,0.575,0.6,0.625,0.65,0.675,0.7,0.725,0.75], "labelExpr": "abs(datum.value*20-round(datum.value*20))<1e-6 ? format(datum.value, '.2f') : ''", "tickSize": {"condition": {"test": "abs(datum.value*20-round(datum.value*20))<1e-6", "value": -6}, "value": -3}, "labelPadding": 14, "titlePadding": 10}},
      "y": {"field": "r", "type": "quantitative", "scale": {"type": "log", "domain": [1e-7, 3e-3], "nice": false},
            "axis": {"title": "true min. creep rate / s⁻¹", "values": [1e-7,2e-7,3e-7,4e-7,5e-7,6e-7,7e-7,8e-7,9e-7,1e-6,2e-6,3e-6,4e-6,5e-6,6e-6,7e-6,8e-6,9e-6,1e-5,2e-5,3e-5,4e-5,5e-5,6e-5,7e-5,8e-5,9e-5,1e-4,2e-4,3e-4,4e-4,5e-4,6e-4,7e-4,8e-4,9e-4,1e-3,2e-3,3e-3],
                     "labelExpr": "abs(log(datum.value)/LN10-round(log(datum.value)/LN10))<1e-6 ? '10⁻'+['⁰','¹','²','³','⁴','⁵','⁶','⁷','⁸','⁹'][-round(log(datum.value)/LN10)] : ''",
                     "tickSize": {"condition": {"test": "abs(log(datum.value)/LN10-round(log(datum.value)/LN10))<1e-6", "value": -6}, "value": -3},
                     "labelPadding": 10, "titlePadding": 8}},
      "stroke": {"field": "col", "type": "nominal", "scale": null},
      "detail": {"field": "k", "type": "nominal"}
     }},
    {"data": {"name": "d"}, "mark": {"type": "point", "filled": false, "strokeWidth": 1.6, "size": 110, "opacity": 1},
     "encoding": {
      "x": {"field": "T", "type": "quantitative"},
      "y": {"field": "r", "type": "quantitative"},
      "color": {"field": "m", "type": "nominal", "scale": {"domain": ["eutectic AC", "(Mo,Ti)ₛₛ", "(Mo,Ti,Si)ₛₛ"], "range": ["#FF8000", "#0000FF", "#008000"]}, "legend": {"orient": "bottom-right", "title": null, "offset": 4, "rowPadding": 5, "labelOffset": 22, "symbolSize": 130, "symbolStrokeWidth": 1.6}},
      "shape": {"field": "m", "type": "nominal", "scale": {"domain": ["eutectic AC", "(Mo,Ti)ₛₛ", "(Mo,Ti,Si)ₛₛ"], "range": ["triangle-up", "triangle-down", "diamond"]}, "legend": {"orient": "bottom-right", "title": null, "offset": 4, "rowPadding": 5, "labelOffset": 22, "symbolSize": 130, "symbolStrokeWidth": 1.6}}
     }},
    {"data": {"name": "boxD"}, "mark": {"type": "rect", "fill": "white", "stroke": "#444444", "strokeWidth": 1.2},
     "encoding": {"x": {"field": "x1", "type": "quantitative"}, "x2": {"field": "x2"}, "y": {"field": "y1", "type": "quantitative"}, "y2": {"field": "y2"}}},
    {"data": {"name": "dText"}, "mark": {"type": "text", "align": "left", "baseline": "middle"},
     "encoding": {"x": {"field": "T", "type": "quantitative"}, "y": {"field": "r", "type": "quantitative"}, "text": {"field": "t"}, "size": {"field": "z", "type": "quantitative", "scale": null}, "fill": {"field": "col", "type": "nominal", "scale": null}}}
   ]}
 ], "spacing": 11, "resolve": {"scale": {"color": "independent", "shape": "independent", "fill": "independent", "stroke": "independent"}, "legend": {"color": "independent", "shape": "independent"}}}
]
}
